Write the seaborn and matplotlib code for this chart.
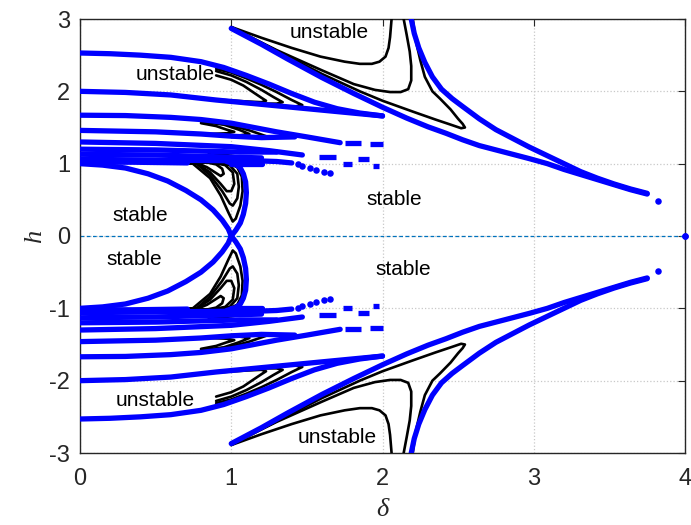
import matplotlib
matplotlib.use("Agg")
import matplotlib.pyplot as plt
import seaborn as sns

# ---------------- data (upper half; the chart is mirrored about h = 0) ----------------
# tongue 1 (blue boundaries)
u1_d = [0, 0.2, 0.4, 0.6, 0.8, 0.95, 1.1, 1.25, 1.4, 1.55, 1.7, 1.85, 2.0]
u1_h = [2.53, 2.52, 2.50, 2.47, 2.41, 2.33, 2.22, 2.10, 1.97, 1.85, 1.76, 1.70, 1.66]
u2_d = [0, 0.3, 0.6, 0.9, 1.2, 1.5, 1.8, 2.0]
u2_h = [2.0, 1.985, 1.95, 1.88, 1.82, 1.76, 1.70, 1.66]
# tongue 1 (black inner contours)
t1a_d = [0.9, 1.0, 1.08, 1.15, 1.2, 1.23, 1.2, 1.1, 0.95]
t1a_h = [2.22, 2.16, 2.08, 1.98, 1.91, 1.87, 1.85, 1.86, 1.88]
t1b_d = [0.9, 1.0, 1.1, 1.2, 1.28, 1.34, 1.3, 1.2, 1.05, 0.9]
t1b_h = [2.28, 2.22, 2.13, 2.02, 1.92, 1.85, 1.83, 1.83, 1.85, 1.88]
t1c_d = [0.9, 1.0, 1.1, 1.2, 1.3, 1.4, 1.47, 1.42, 1.3, 1.15, 0.95]
t1c_h = [2.31, 2.26, 2.18, 2.09, 1.99, 1.88, 1.81, 1.79, 1.80, 1.83, 1.87]
# tongue 2
v1_d = [0, 0.3, 0.6, 0.8, 1.0, 1.15, 1.3, 1.5, 1.72]
v1_h = [1.67, 1.665, 1.64, 1.61, 1.56, 1.50, 1.44, 1.37, 1.29]
v2_d = [0, 0.5, 0.8, 1.0, 1.2, 1.42]
v2_h = [1.46, 1.44, 1.41, 1.38, 1.36, 1.37]
t2a_d = [0.8, 0.9, 0.97, 1.02, 0.97, 0.85]
t2a_h = [1.56, 1.52, 1.47, 1.44, 1.42, 1.41]
t2b_d = [0.8, 0.95, 1.05, 1.12, 1.05, 0.9]
t2b_h = [1.58, 1.54, 1.47, 1.41, 1.39, 1.40]
t2c_d = [0.8, 1.0, 1.12, 1.23, 1.15, 1.0]
t2c_h = [1.59, 1.53, 1.46, 1.38, 1.36, 1.37]
# thin tongues near h = 1
w1_d = [0, 0.5, 1.0, 1.25, 1.47]
w1_h = [1.30, 1.28, 1.235, 1.18, 1.12]
w2_d = [0, 0.5, 1.06, 1.3]
w2_h = [1.20, 1.19, 1.16, 1.16]
x1_d = [0, 0.5, 1.0, 1.2]
x1_h = [1.13, 1.12, 1.09, 1.08]
x2_d = [0, 0.5, 1.0, 1.16, 1.3, 1.4]
x2_h = [1.06, 1.05, 1.04, 1.04, 1.03, 1.01]
z1_d = [0, 0.35, 0.71]
z1_h = [1.02, 1.02, 1.01]
z2_d = [1.0, 1.2]
z2_h = [1.0, 1.0]
t3a_d = [0.72, 0.78, 0.81, 0.78, 0.72]
t3a_h = [1.04, 1.04, 1.02, 1.0, 1.0]
t3b_d = [0.85, 0.95, 1.02, 0.95, 0.85]
t3b_h = [1.17, 1.17, 1.15, 1.13, 1.13]
# scattered blue dashes (start delta, end delta, h) and dots
dash_d0 = [1.75, 1.92, 1.58, 1.84, 1.74, 1.94]
dash_d1 = [1.86, 2.00, 1.69, 1.91, 1.80, 1.98]
dash_h = [1.28, 1.265, 1.09, 1.07, 1.0, 0.97]
dot_d = [1.44, 1.47, 1.52, 1.56, 1.61, 1.65, 3.82, 4.0]
dot_h = [0.99, 0.97, 0.94, 0.91, 0.89, 0.87, 0.48, 0.0]
# stable lobe around the origin
lobe_l_d = [0, 0.15, 0.3, 0.45, 0.58, 0.7, 0.8, 0.88, 0.94, 0.98, 1.0]
lobe_l_h = [1.0, 0.98, 0.94, 0.86, 0.76, 0.63, 0.50, 0.36, 0.22, 0.10, 0.0]
lobe_r_d = [1.0, 1.03, 1.06, 1.08, 1.095, 1.10, 1.095, 1.08, 1.06, 1.03, 0.97]
lobe_r_h = [0.0, 0.08, 0.18, 0.30, 0.45, 0.60, 0.75, 0.86, 0.94, 0.99, 1.03]
la_d = [0.76, 0.84, 0.90, 0.93, 0.95, 0.94, 0.90, 0.83, 0.76]
la_h = [1.02, 0.95, 0.87, 0.83, 0.86, 0.93, 0.99, 1.02, 1.02]
lb_d = [0.76, 0.86, 0.93, 0.97, 1.0, 1.02, 1.01, 0.96, 0.86, 0.76]
lb_h = [1.02, 0.88, 0.72, 0.62, 0.62, 0.72, 0.88, 0.98, 1.02, 1.02]
lc_d = [0.76, 0.86, 0.94, 0.99, 1.01, 1.04, 1.05, 1.04, 0.99, 0.88, 0.76]
lc_h = [1.02, 0.84, 0.62, 0.45, 0.42, 0.52, 0.68, 0.86, 0.98, 1.02, 1.02]
ld_d = [0.74, 0.86, 0.93, 0.98, 1.01, 1.03, 1.06, 1.075, 1.07, 1.04, 0.98, 0.86, 0.74]
ld_h = [1.01, 0.80, 0.56, 0.33, 0.20, 0.24, 0.42, 0.62, 0.82, 0.95, 1.01, 1.02, 1.01]
# big region on the right
y1_d = [1.0, 1.1, 1.2, 1.37, 1.6, 1.81, 2.0, 2.16, 2.3, 2.42, 2.53, 2.64, 2.75, 2.86,
        2.97, 3.09, 3.2, 3.31, 3.42, 3.53, 3.64, 3.75]
y1_h = [2.87, 2.76, 2.65, 2.45, 2.19, 1.97, 1.78, 1.63, 1.51, 1.42, 1.33, 1.25, 1.19, 1.13,
        1.07, 1.00, 0.92, 0.85, 0.78, 0.71, 0.64, 0.58]
y2_d = [2.19, 2.21, 2.24, 2.28, 2.33, 2.39, 2.46, 2.53, 2.64, 2.75, 2.86, 2.97, 3.09, 3.2,
        3.31, 3.42, 3.53, 3.64, 3.75]
y2_h = [3.0, 2.8, 2.6, 2.4, 2.2, 2.03, 1.9, 1.79, 1.62, 1.47, 1.35, 1.23, 1.11, 1.0,
        0.89, 0.80, 0.72, 0.65, 0.59]
k1_d = [1.0, 1.2, 1.4, 1.59, 1.75, 1.85, 1.93, 1.98, 2.02, 2.04, 2.05, 2.06]
k1_h = [2.89, 2.74, 2.60, 2.48, 2.41, 2.38, 2.38, 2.41, 2.48, 2.6, 2.75, 3.0]
k2_d = [1.0, 1.3, 1.6, 1.81, 1.95, 2.05, 2.12, 2.17, 2.19, 2.19, 2.18, 2.16, 2.14]
k2_h = [2.88, 2.57, 2.29, 2.10, 2.02, 1.99, 1.99, 2.03, 2.15, 2.35, 2.55, 2.78, 3.0]
k3_d = [1.0, 1.3, 1.6, 1.85, 2.0, 2.2, 2.35, 2.45, 2.52, 2.545, 2.53, 2.50, 2.45, 2.38,
        2.33, 2.28, 2.25, 2.22, 2.20]
k3_h = [2.89, 2.56, 2.24, 2.0, 1.87, 1.72, 1.61, 1.54, 1.49, 1.50, 1.55, 1.62, 1.75, 1.90,
        2.0, 2.2, 2.43, 2.7, 3.0]

label_text = ["unstable", "unstable", "stable", "stable", "stable", "stable", "unstable", "unstable"]
label_d = [0.63, 1.65, 0.40, 0.36, 2.08, 2.14, 0.50, 1.70]
label_h = [2.23, 2.81, 0.28, -0.33, 0.51, -0.47, -2.28, -2.79]

x_ticks = [0, 1, 2, 3, 4]
y_ticks = [-3, -2, -1, 0, 1, 2, 3]

# ---------------- drawing ----------------
sns.set_style("white")
plt.rcParams["font.family"] = ["Liberation Sans", "DejaVu Sans"]

fig = plt.figure(figsize=(6.91, 5.25), dpi=100)
ax = fig.add_axes([80 / 691, (525 - 453) / 525, 605 / 691, 434 / 525])

BLUE = "#0000ff"
BLUE_LW = 3.8
BLACK_LW = 1.9


def curve(d, h, color, lw):
    for s in (1, -1):
        sns.lineplot(x=d, y=[s * v for v in h], sort=False, estimator=None, ax=ax,
                     color=color, linewidth=lw, solid_capstyle="round",
                     solid_joinstyle="round", zorder=3 if color == "black" else 4)


# black contours first, blue boundaries on top of them
for d, h in [(t1a_d, t1a_h), (t1b_d, t1b_h), (t1c_d, t1c_h), (t2a_d, t2a_h), (t2b_d, t2b_h),
             (t2c_d, t2c_h), (t3a_d, t3a_h), (t3b_d, t3b_h), (la_d, la_h), (lb_d, lb_h),
             (lc_d, lc_h), (ld_d, ld_h), (k1_d, k1_h), (k2_d, k2_h), (k3_d, k3_h)]:
    curve(d, h, "black", BLACK_LW)

for d, h in [(u1_d, u1_h), (u2_d, u2_h), (v1_d, v1_h), (v2_d, v2_h), (w1_d, w1_h), (w2_d, w2_h),
             (x1_d, x1_h), (x2_d, x2_h), (z1_d, z1_h), (z2_d, z2_h), (lobe_l_d, lobe_l_h),
             (lobe_r_d, lobe_r_h), (y1_d, y1_h), (y2_d, y2_h)]:
    curve(d, h, BLUE, BLUE_LW)

for a, b, h in zip(dash_d0, dash_d1, dash_h):
    for s in (1, -1):
        sns.lineplot(x=[a, b], y=[s * h, s * h], sort=False, estimator=None, ax=ax,
                     color=BLUE, linewidth=BLUE_LW, solid_capstyle="butt", zorder=4)

sns.scatterplot(x=dot_d + dot_d, y=dot_h + [-v for v in dot_h], ax=ax, color=BLUE,
                s=22, linewidth=0, zorder=4, clip_on=False)

# h = 0 axis line
ax.axhline(0, color="#0072BD", lw=0.9, ls=(0, (3, 2)), zorder=2)

for t, d, h in zip(label_text, label_d, label_h):
    ax.text(d, h, t, ha="center", va="center", fontsize=15, color="black", zorder=6)

ax.set_xlim(0, 4)
ax.set_ylim(-3, 3)
ax.set_xticks(x_ticks)
ax.set_yticks(y_ticks)
ax.set_xticklabels([str(v) for v in x_ticks])
ax.set_yticklabels([str(v) for v in y_ticks])
ax.grid(True, color="#c8c8c8", ls=":", lw=0.9)
ax.set_axisbelow(True)
for sp in ax.spines.values():
    sp.set_visible(True)
    sp.set_color("#262626")
    sp.set_linewidth(1.0)
ax.tick_params(direction="in", length=5, width=0.8, top=True, right=True,
               labelsize=17, colors="#262626")
ax.tick_params(axis="x", pad=11)
ax.tick_params(axis="y", pad=7)

ax.set_xlabel("δ", fontsize=19, family=["Liberation Serif", "DejaVu Serif"], style="italic", color="#262626")
ax.set_ylabel("h", fontsize=19, family=["Liberation Serif", "DejaVu Serif"], style="italic", color="#262626")
ax.xaxis.set_label_coords(0.5, (453 - 510) / 434)
ax.xaxis.label.set_va("center")
ax.yaxis.set_label_coords((35 - 80) / 605, 0.5)
ax.yaxis.label.set_va("center")

fig.savefig("out.png", dpi=100)
